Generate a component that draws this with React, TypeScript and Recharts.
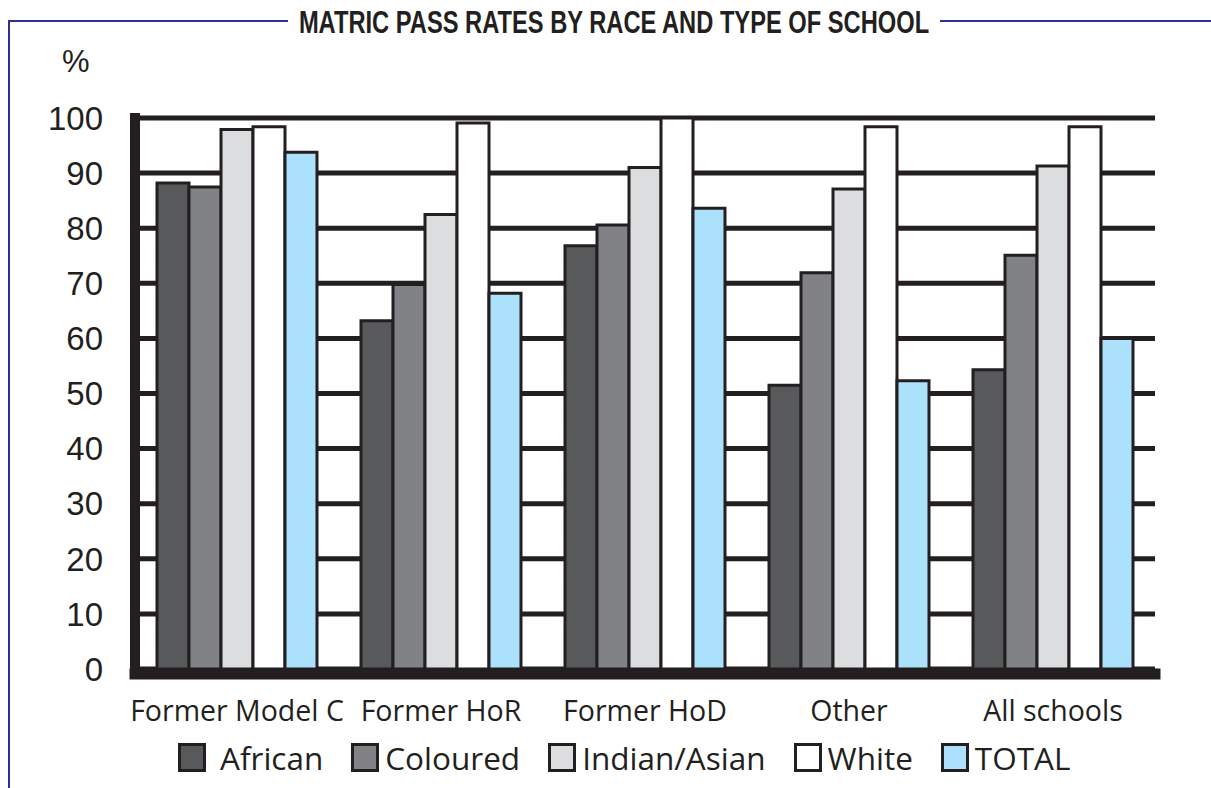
import React from "react";
import { BarChart, Bar, XAxis, YAxis, CartesianGrid } from "recharts";

const categories = ["Former Model C", "Former HoR", "Former HoD", "Other", "All schools"];
const african = [88.2, 63.2, 76.8, 51.5, 54.3];
const coloured = [87.5, 69.8, 80.6, 71.9, 75.1];
const indianAsian = [97.9, 82.5, 91.0, 87.1, 91.3];
const white = [98.4, 99.1, 100, 98.4, 98.4];
const total = [93.8, 68.2, 83.6, 52.3, 60.0];
const yTicks = [0, 10, 20, 30, 40, 50, 60, 70, 80, 90, 100];

const series = [
  { key: "african", name: "African", color: "#58595b" },
  { key: "coloured", name: "Coloured", color: "#808285" },
  { key: "indian", name: "Indian/Asian", color: "#dcdddf" },
  { key: "white", name: "White", color: "#ffffff" },
  { key: "total", name: "TOTAL", color: "#abe1fa" },
];

const data = categories.map((name, i) => ({
  name,
  african: african[i],
  coloured: coloured[i],
  indian: indianAsian[i],
  white: white[i],
  total: total[i],
}));

const INK = "#231f20";
const NAVY = "#2e3192";

export default function App() {
  return (
    <div style={{ position: "absolute", left: 0, top: 0, width: 1211, height: 788, background: "#fff", overflow: "hidden" }}>
      {/* frame */}
      <div style={{ position: "absolute", left: 8, top: 20, width: 2, height: 768, background: NAVY }} />
      <div style={{ position: "absolute", left: 8, top: 20, width: 280, height: 2, background: NAVY }} />
      <div style={{ position: "absolute", left: 940, top: 20, width: 271, height: 2, background: NAVY }} />
      <div
        style={{
          position: "absolute",
          left: 114,
          width: 1000,
          top: 4,
          textAlign: "center",
          whiteSpace: "nowrap",
          fontFamily: "'Liberation Sans', Arial, sans-serif",
          fontWeight: "bold",
          fontSize: 32,
          color: INK,
          lineHeight: "36px",
          transform: "scaleX(0.74)",
          transformOrigin: "500px 0",
        }}
      >
        MATRIC PASS RATES BY RACE AND TYPE OF SCHOOL
      </div>
      <div
        style={{
          position: "absolute",
          left: 62,
          top: 44,
          fontFamily: "'Liberation Sans', Arial, sans-serif",
          fontSize: 31,
          color: INK,
        }}
      >
        %
      </div>

      <BarChart
        width={1211}
        height={788}
        data={data}
        margin={{ top: 118, right: 56, bottom: 79, left: 75 }}
        barSize={32}
        barGap={0}
      >
        <CartesianGrid vertical={false} stroke={INK} strokeWidth={5} />
        <XAxis
          dataKey="name"
          height={40}
          tickSize={0}
          tickMargin={32}
          interval={0}
          tick={{ fill: INK, fontSize: 28.5, fontFamily: "'Open Sans', sans-serif" }}
          axisLine={{ stroke: INK, strokeWidth: 11, strokeLinecap: "square", transform: "translate(0,5)" }}
        />
        <YAxis
          width={60}
          domain={[0, 100]}
          ticks={yTicks}
          interval={0}
          tickSize={0}
          tickMargin={32}
          tick={{ fill: INK, fontSize: 33, fontFamily: "'Liberation Sans', Arial, sans-serif" }}
          axisLine={{ stroke: INK, strokeWidth: 10, strokeLinecap: "square" }}
        />
        {series.map((s) => (
          <Bar
            key={s.key}
            dataKey={s.key}
            name={s.name}
            fill={s.color}
            stroke={INK}
            strokeWidth={3}
            isAnimationActive={false}
          />
        ))}
      </BarChart>

      {/* legend */}
      <div
        style={{
          position: "absolute",
          left: 178,
          top: 736,
          display: "flex",
          alignItems: "center",
          fontFamily: "'Open Sans', sans-serif",
          fontSize: 31.5,
          color: INK,
        }}
      >
        {series.map((s, i) => (
          <div key={s.key} style={{ display: "flex", alignItems: "center", marginRight: 28 }}>
            <div
              style={{
                width: 22,
                height: 23,
                background: s.color,
                border: `3px solid ${INK}`,
                marginRight: i === 0 ? 14 : 6,
              }}
            />
            <span>{s.name}</span>
          </div>
        ))}
      </div>
    </div>
  );
}
